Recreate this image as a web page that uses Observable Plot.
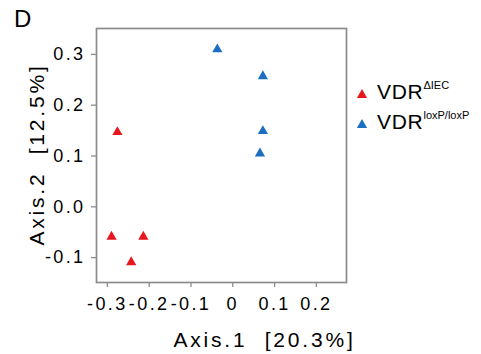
<!DOCTYPE html>
<html>
<head>
<meta charset="utf-8">
<script src="https://cdn.jsdelivr.net/npm/d3@7"></script>
<script src="https://cdn.jsdelivr.net/npm/@observablehq/plot@0.6"></script>
<style>
  html, body { margin: 0; padding: 0; background: white; }
  #wrap { position: relative; width: 481px; height: 354px; overflow: hidden; font-family: "Liberation Sans", Arial, sans-serif; }
  #panel { position: absolute; left: 14px; top: 5px; font-size: 24px; color: #000; }
  .leg { position: absolute; left: 356px; font-size: 21px; color: #000; white-space: nowrap; letter-spacing: 0.7px; }
  .leg sup { font-size: 11px; vertical-align: 0; position: relative; top: -10px; letter-spacing: 0; }
  .leg svg { position: absolute; left: 0; top: 9px; }
  .leg span.t { position: absolute; left: 21px; top: 0; }
  svg g[aria-label="x-axis tick label"] text, svg g[aria-label="y-axis tick label"] text { font-size: 18px !important; letter-spacing: 2.4px; }
</style>
</head>
<body>
<div id="wrap"></div>
<script>
// Data
const groups = ["VDR\u0394IEC", "VDRloxP/loxP"];
const groupColors = ["#e8161d", "#1b6fc0"];
const axis1_ko = [-0.276, -0.290, -0.214, -0.243];
const axis2_ko = [0.147, -0.059, -0.059, -0.109];
const axis1_ctrl = [-0.037, 0.072, 0.072, 0.065];
const axis2_ctrl = [0.310, 0.257, 0.149, 0.105];
const xTicks = [-0.3, -0.2, -0.1, 0, 0.1, 0.2];
const yTicks = [-0.1, 0.0, 0.1, 0.2, 0.3];
const xLabel = "Axis.1  [20.3%]";
const yLabel = "Axis.2  [12.5%]";

const points = [
  ...axis1_ko.map((x, i) => ({x, y: axis2_ko[i], g: groups[0]})),
  ...axis1_ctrl.map((x, i) => ({x, y: axis2_ctrl[i], g: groups[1]}))
];

const chart = Plot.plot({
  width: 481,
  height: 354,
  marginLeft: 96,
  marginRight: 135,
  marginTop: 28,
  marginBottom: 72,
  style: {fontFamily: "'Liberation Sans', Arial, sans-serif", fontSize: "18px", background: "white", color: "#000"},
  x: {domain: [-0.326, 0.272]},
  y: {domain: [-0.149, 0.351]},
  color: {domain: groups, range: groupColors},
  marks: [
    Plot.frame({stroke: "#8c8c8c", strokeWidth: 1.7}),
    Plot.axisX({ticks: xTicks, tickFormat: d => d === 0 ? "0" : d.toFixed(1), tickSize: 5, tickPadding: 10, stroke: "#8c8c8c", strokeWidth: 1.3, fill: "#000", fontSize: 18, label: null}),
    Plot.axisY({ticks: yTicks, tickFormat: d => d.toFixed(1), tickSize: 5, tickPadding: 6, stroke: "#8c8c8c", strokeWidth: 1.3, fill: "#000", fontSize: 18, label: null}),
    Plot.dot(points, {x: "x", y: "y", fill: "g", symbol: "triangle", r: 3.8, stroke: "none"}),
    Plot.text([xLabel], {text: d => d, frameAnchor: "bottom", textAnchor: "middle", lineAnchor: "middle", dx: 43, dy: 58, fill: "#000", fontSize: 21, ariaDescription: "axis-title"}),
    Plot.text([yLabel], {text: d => d, frameAnchor: "left", textAnchor: "middle", lineAnchor: "middle", rotate: -90, dx: -59, dy: -1, fill: "#000", fontSize: 21, ariaDescription: "axis-title"})
  ]
});

const sel = d3.select(chart);
sel.selectAll('g[aria-description="axis-title"] text').style("letter-spacing", "2.8px");

const wrap = document.getElementById("wrap");
wrap.appendChild(chart);

const panel = document.createElement("div");
panel.id = "panel";
panel.textContent = "D";
wrap.appendChild(panel);

const supers = ["\u0394IEC", "loxP/loxP"];
const legTops = [80, 110];
groups.forEach((g, i) => {
  const d = document.createElement("div");
  d.className = "leg";
  d.style.top = legTops[i] + "px";
  d.innerHTML = `<svg width="12" height="12" viewBox="-6 -6 12 12"><path d="${d3.symbol(d3.symbolTriangle, 3.8*3.8*Math.PI)()}" fill="${groupColors[i]}"/></svg><span class="t">VDR<sup>${supers[i]}</sup></span>`;
  wrap.appendChild(d);
});
</script>
</body>
</html>
